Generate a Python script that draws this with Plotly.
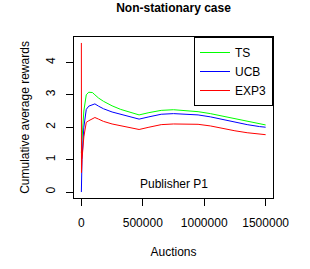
import plotly.graph_objects as go

auctions = [0, 1000, 5000, 20000, 40000, 60000, 90000, 110000, 140000, 180000, 250000,
            320000, 400000, 470000, 550000, 650000, 750000, 850000, 950000, 1050000,
            1150000, 1250000, 1350000, 1450000, 1500000]
ts = [1.2, 1.3, 1.6, 2.5, 3.0, 3.08, 3.07, 3.0, 2.9, 2.8, 2.66, 2.55, 2.45, 2.38, 2.45,
      2.52, 2.54, 2.52, 2.48, 2.42, 2.34, 2.25, 2.17, 2.1, 2.07]
ucb = [0.0, 0.4, 1.0, 2.0, 2.55, 2.65, 2.7, 2.72, 2.65, 2.57, 2.47, 2.4, 2.3, 2.25, 2.32,
       2.4, 2.42, 2.41, 2.38, 2.32, 2.24, 2.15, 2.08, 2.02, 2.0]
exp3 = [4.6, 0.6, 1.0, 1.7, 2.15, 2.2, 2.27, 2.3, 2.25, 2.18, 2.1, 2.05, 1.98, 1.93, 2.0,
        2.08, 2.1, 2.1, 2.09, 2.04, 1.96, 1.89, 1.83, 1.79, 1.77]
series_names = ["TS", "UCB", "EXP3"]
x_ticks = [0, 500000, 1000000, 1500000]
y_ticks = [0, 1, 2, 3, 4]

FONT = "Liberation Sans, Arial, sans-serif"
fig = go.Figure()
for name, vals, col in zip(series_names, [ts, ucb, exp3], ["#00ff00", "#0000ff", "#ff0000"]):
    fig.add_trace(go.Scatter(x=auctions, y=vals, mode="lines", name=name,
                             line=dict(color=col, width=1)))

fig.add_annotation(x=758000, y=0.25, text="Publisher P1", showarrow=False,
                   font=dict(size=12, color="black"), xanchor="center", yanchor="middle")

fig.update_layout(
    width=310, height=269,
    margin=dict(l=74, r=37, t=37, b=69),
    paper_bgcolor="white", plot_bgcolor="white",
    font=dict(family=FONT, size=12, color="black"),
    title=dict(text="<b>Non-stationary case</b>", x=173.5 / 310, xanchor="center",
               y=1 - 8 / 269, yanchor="middle", yref="container",
               font=dict(size=12, family=FONT)),
    showlegend=True,
    legend=dict(x=1, xanchor="right", y=1, yanchor="top",
                bordercolor="black", borderwidth=1, bgcolor="white",
                font=dict(size=12), tracegroupgap=0, itemwidth=30),
    xaxis=dict(range=[-60000, 1560000], tickvals=x_ticks, ticktext=[str(v) for v in x_ticks],
               showgrid=False, zeroline=False, showline=True, mirror=True,
               linecolor="black", linewidth=1, ticks="outside", ticklen=7,
               tickcolor="black", ticklabelstandoff=7,
               title=dict(text="Auctions", standoff=18, font=dict(size=12))),
    yaxis=dict(range=[-0.184, 4.784], tickvals=y_ticks, ticktext=[str(v) for v in y_ticks],
               tickangle=-90, showgrid=False, zeroline=False, showline=True, mirror=True,
               linecolor="black", linewidth=1, ticks="outside", ticklen=7,
               tickcolor="black", ticklabelstandoff=6,
               title=dict(text="Cumulative average rewards", standoff=12, font=dict(size=12))),
)
fig.write_html("out.html", config={"displayModeBar": False},
               post_script="document.body.style.margin='0';")
